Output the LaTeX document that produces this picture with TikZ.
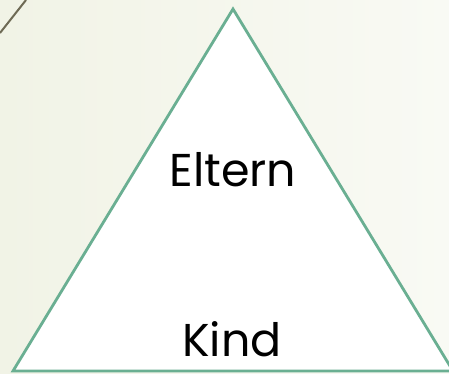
\documentclass[tikz,border=0pt]{standalone}
\usepackage{fontspec}
\setmainfont{Poppins}
\usetikzlibrary{positioning}
\definecolor{paleleft}{HTML}{F1F3E6}
\definecolor{paleright}{HTML}{F9FAF4}
\definecolor{sage}{HTML}{6AAF92}
\definecolor{olive}{HTML}{6E6A55}
\begin{document}
\begin{tikzpicture}[x=1pt,y=-1pt,word/.style={font=\fontsize{46}{50}\selectfont,inner sep=0pt,anchor=base}]
\clip (0,0) rectangle (449,373);
\shade[left color=paleleft,right color=paleright] (0,0) rectangle (449,373);
\draw[olive,line width=2pt] (0,33) -- (26,0);
\coordinate (apex) at (233,9);
\coordinate (baseleft) at (13,371);
\coordinate (baseright) at (453,371);
\draw[sage,fill=white,line width=2.8pt,line join=miter] (apex) -- (baseleft) -- (baseright) -- cycle;
\node[word] (eltern) at (233,186) {Eltern};
\node[word] (kind) at (232,356) {Kind};
\end{tikzpicture}
\end{document}
